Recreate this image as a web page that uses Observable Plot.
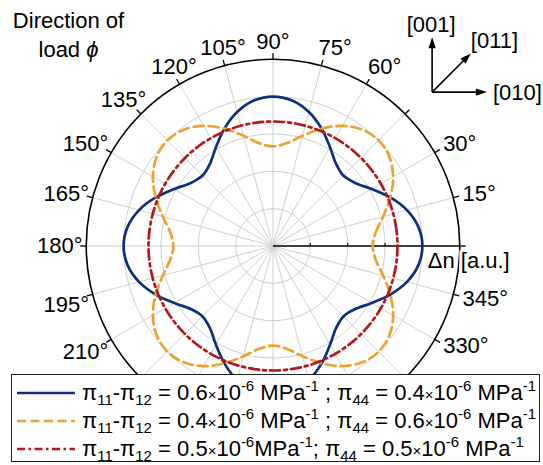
<!DOCTYPE html>
<html>
<head>
<meta charset="utf-8">
<script src="https://cdn.jsdelivr.net/npm/d3@7"></script>
<script src="https://cdn.jsdelivr.net/npm/@observablehq/plot@0.6"></script>
<style>
  html, body { margin: 0; padding: 0; background: #fff; }
  #wrap { position: relative; width: 543px; height: 465px; overflow: hidden; font-family: "Liberation Sans", Arial, sans-serif; }
  #chart { position: absolute; left: 0; top: 0; }
  #title { position: absolute; left: 0; top: 6px; width: 137px; text-align: center; font-size: 22px; line-height: 29px; color: #000; }
  #legend { position: absolute; left: 11px; top: 374px; width: 527px; height: 86px; border: 1.5px solid #222; background: #fff; font-size: 22px; color: #000; }
  .row { position: absolute; left: 0; height: 28px; white-space: nowrap; }
  .row svg { position: absolute; left: 5px; top: 0; }
  .row span.t { position: absolute; left: 70px; top: 0; line-height: 28px; }
  sub, sup { font-size: 15px; line-height: 0; }
  sub { vertical-align: -5px; }
  sup { vertical-align: 9px; }
  .x { font-size: 15px; }
</style>
</head>
<body>
<div id="wrap">
  <div id="chart"></div>
  <div id="title">Direction of<br>load <i>ϕ</i></div>
  <div id="legend"></div>
</div>
<script>
// ---- data ----
const angles = [0,7.5,15,22.5,30,37.5,45,52.5,60,67.5,75,82.5,
  90,97.5,105,112.5,120,127.5,135,142.5,150,157.5,165,172.5,
  180,187.5,195,202.5,210,217.5,225,232.5,240,247.5,255,262.5,
  270,277.5,285,292.5,300,307.5,315,322.5,330,337.5,345,352.5];
const blueValues = [0.600,0.589,0.557,0.510,0.458,0.416,0.400,0.416,0.458,0.510,0.557,0.589,
  0.600,0.589,0.557,0.510,0.458,0.416,0.400,0.416,0.458,0.510,0.557,0.589,
  0.600,0.589,0.557,0.510,0.458,0.416,0.400,0.416,0.458,0.510,0.557,0.589,
  0.600,0.589,0.557,0.510,0.458,0.416,0.400,0.416,0.458,0.510,0.557,0.589];
const orangeValues = [0.400,0.416,0.458,0.510,0.557,0.589,0.600,0.589,0.557,0.510,0.458,0.416,
  0.400,0.416,0.458,0.510,0.557,0.589,0.600,0.589,0.557,0.510,0.458,0.416,
  0.400,0.416,0.458,0.510,0.557,0.589,0.600,0.589,0.557,0.510,0.458,0.416,
  0.400,0.416,0.458,0.510,0.557,0.589,0.600,0.589,0.557,0.510,0.458,0.416];
const redValues = [0.5,0.5,0.5,0.5,0.5,0.5,0.5,0.5,0.5,0.5,0.5,0.5,
  0.5,0.5,0.5,0.5,0.5,0.5,0.5,0.5,0.5,0.5,0.5,0.5,
  0.5,0.5,0.5,0.5,0.5,0.5,0.5,0.5,0.5,0.5,0.5,0.5,
  0.5,0.5,0.5,0.5,0.5,0.5,0.5,0.5,0.5,0.5,0.5,0.5];
const seriesNames = ["blue", "orange", "red"];
const seriesLegend = [
  'π<sub>11</sub>-π<sub>12</sub> = 0.6<span class="x">×</span>10<sup>-6</sup> MPa<sup>-1</sup> ; π<sub>44</sub> = 0.4<span class="x">×</span>10<sup>-6</sup> MPa<sup>-1</sup>',
  'π<sub>11</sub>-π<sub>12</sub> = 0.4<span class="x">×</span>10<sup>-6</sup> MPa<sup>-1</sup> ; π<sub>44</sub> = 0.6<span class="x">×</span>10<sup>-6</sup> MPa<sup>-1</sup>',
  'π<sub>11</sub>-π<sub>12</sub> = 0.5<span class="x">×</span>10<sup>-6</sup>MPa<sup>-1</sup>; π<sub>44</sub> = 0.5<span class="x">×</span>10<sup>-6</sup> MPa<sup>-1</sup>'
];
const gridAngles = [0,15,30,45,60,75,90,105,120,135,150,165,180,195,210,225,240,255,270,285,300,315,330,345];
const ringValues = [0.15, 0.30, 0.45, 0.60];
const outerRadius = 0.75;
const angleLabels = ["15°","30°","60°","75°","90°","105°","120°","135°","150°","165°","180°","195°","210°","330°","345°"];
const radialLabel = "Δn [a.u.]";
const crystalAxes = [{label: "[010]", angle: 0}, {label: "[011]", angle: 45}, {label: "[001]", angle: 90}];

// ---- styles ----
const colors = {blue: "#0c2f7e", orange: "#eea12f", red: "#b3181e"};
const dashes = {blue: null, orange: "10,5", red: "10,4,3,4"};
const FONT = "Liberation Sans, Arial, sans-serif";

const deg = Math.PI / 180;
const PX = 249; // pixels per data unit
const cx = 272.5, cy = 245.5;
const series = {blue: blueValues, orange: orangeValues, red: redValues};

const polar = (vals) => angles.map((a, i) => ({a, r: vals[i]}));
const px = d => d.r * Math.cos(d.a * deg);
const py = d => d.r * Math.sin(d.a * deg);
const clamp = (v, lo, hi) => Math.max(lo, Math.min(hi, v));

// label placement: anchor on a circle just outside the frame, then shift the text box outward
const labelData = angleLabels.map(s => {
  const a = parseFloat(s);
  const c = Math.cos(a * deg), sn = Math.sin(a * deg);
  const hw = 22 * (0.556 * (s.length - 1) + 0.4) / 2;
  const R = 193;
  let xo = 0, yo = 0;
  if (c > 0.01) xo = Math.min(1, 0.45 + 0.65 * c) * (hw + 3);
  else if (c < -0.01) xo = -clamp((-c - 0.45) * 2.5, 0, 1) * (hw - 2.5);
  if (sn > 0.01) yo = clamp(1.4 * sn - 0.2, 0, 1) * 11.5;
  else if (sn < -0.01) yo = -(c < 0 ? 9.5 : 3) * Math.min(1, -sn * 4);
  return {s, x: (R * c + xo) / PX, y: (R * sn + yo) / PX};
});

const inset = {x0: 0.639, y0: 0.618, len: 0.22};
const arrowHead = {
  draw(context) {
    context.moveTo(0, 0);
    context.lineTo(3.6, 11);
    context.lineTo(-3.6, 11);
    context.closePath();
  }
};
const tipX = d => inset.x0 + inset.len * Math.cos(d.angle * deg);
const tipY = d => inset.y0 + inset.len * Math.sin(d.angle * deg);

const marks = [
  // spokes
  Plot.link(gridAngles.filter(a => a !== 0), {
    x1: 0, y1: 0,
    x2: a => outerRadius * Math.cos(a * deg), y2: a => outerRadius * Math.sin(a * deg),
    stroke: "#cfcfcf", strokeWidth: 1
  }),
  // rings
  Plot.dot(ringValues, {x: 0, y: 0, r: d => d, stroke: "#cfcfcf", strokeWidth: 1, fill: "none"}),
  // outer circle
  Plot.dot([outerRadius], {x: 0, y: 0, r: d => d, stroke: "#000", strokeWidth: 1.6, fill: "none"}),
  // outer ticks
  Plot.link(gridAngles, {
    x1: a => outerRadius * Math.cos(a * deg), y1: a => outerRadius * Math.sin(a * deg),
    x2: a => (outerRadius + 6 / PX) * Math.cos(a * deg), y2: a => (outerRadius + 6 / PX) * Math.sin(a * deg),
    stroke: "#000", strokeWidth: 1.3
  }),
  // radial axis
  Plot.link([outerRadius], {x1: 0, y1: 0, x2: d => d, y2: 0, stroke: "#000", strokeWidth: 1.5}),
  Plot.link(ringValues, {x1: d => d, y1: 0, x2: d => d, y2: 3 / PX, stroke: "#000", strokeWidth: 1.2}),
  // series
  ...seriesNames.map(n => Plot.line(polar(series[n]), {
    x: px, y: py, curve: "catmull-rom-closed",
    stroke: colors[n], strokeWidth: 2.7, strokeDasharray: dashes[n]
  })),
  // angle labels
  Plot.text(labelData, {x: "x", y: "y", text: "s", fontSize: 22, fill: "#000",
    textAnchor: "middle", lineAnchor: "middle", fontFamily: FONT}),
  // radial label
  Plot.text([radialLabel], {x: outerRadius, y: 0, text: d => d, dx: -32, dy: 15, textAnchor: "start",
    lineAnchor: "middle", fontSize: 22, fill: "#000", stroke: "#fff", strokeWidth: 6, fontFamily: FONT}),
  // crystal axes inset
  Plot.link(crystalAxes, {
    x1: inset.x0, y1: inset.y0,
    x2: d => inset.x0 + (inset.len - 8 / PX) * Math.cos(d.angle * deg),
    y2: d => inset.y0 + (inset.len - 8 / PX) * Math.sin(d.angle * deg),
    stroke: "#000", strokeWidth: 1.6
  }),
  Plot.dot(crystalAxes, {
    x: tipX, y: tipY, rotate: d => 90 - d.angle, symbol: arrowHead, fill: "#000", stroke: "none", r: 4
  }),
  Plot.text(crystalAxes.filter(d => d.angle === 0), {
    x: tipX, y: tipY, text: "label", fontSize: 22, fill: "#000", fontFamily: FONT,
    textAnchor: "start", lineAnchor: "middle", dx: 6, dy: 1
  }),
  Plot.text(crystalAxes.filter(d => d.angle === 45), {
    x: tipX, y: tipY, text: "label", fontSize: 22, fill: "#000", fontFamily: FONT,
    textAnchor: "start", lineAnchor: "middle", dx: 0, dy: -12
  }),
  Plot.text(crystalAxes.filter(d => d.angle === 90), {
    x: tipX, y: tipY, text: "label", fontSize: 22, fill: "#000", fontFamily: FONT,
    textAnchor: "middle", lineAnchor: "bottom", dx: -1, dy: -5
  })
];

const chart = Plot.plot({
  width: 543, height: 465, margin: 0,
  style: {background: "transparent", fontFamily: FONT},
  x: {domain: [-1, 1], range: [cx - PX, cx + PX], axis: null},
  y: {domain: [-1, 1], range: [cy + PX, cy - PX], axis: null},
  r: {type: "linear", domain: [0, 1], range: [0, PX]},
  marks
});
document.getElementById("chart").appendChild(chart);

// legend
const legendDash = {blue: "", orange: "9,4.5", red: "8,3.5,2.5,3.5"};
const legend = document.getElementById("legend");
seriesNames.forEach((n, i) => {
  const row = document.createElement("div");
  row.className = "row";
  row.style.top = (4 + i * 28) + "px";
  row.style.width = "100%";
  const dash = legendDash[n] ? `stroke-dasharray="${legendDash[n]}"` : "";
  row.innerHTML = `<svg width="60" height="28"><line x1="0" x2="58" y1="14" y2="14" stroke="${colors[n]}" stroke-width="2.7" ${dash}/></svg><span class="t">${seriesLegend[i]}</span>`;
  legend.appendChild(row);
});
</script>
</body>
</html>
